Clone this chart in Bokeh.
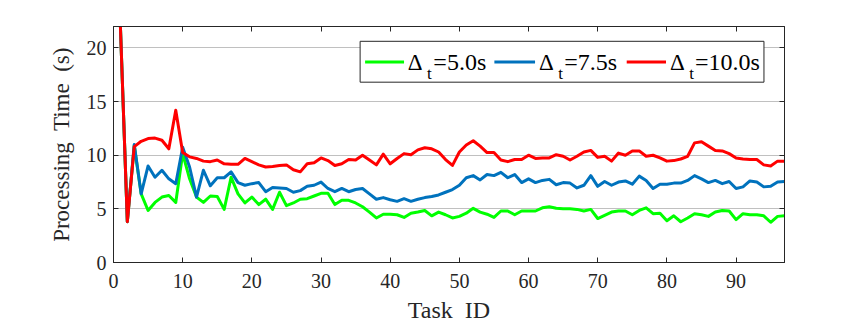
from bokeh.plotting import figure
from bokeh.models import LinearAxis, FixedTicker, Range1d, BoxAnnotation, Label, CustomJSTickFormatter
from bokeh.embed import file_html
from bokeh.resources import INLINE

# ---------------- data ----------------
task_id = list(range(1, 98))

time_5s = [22.0, 3.8, 10.9, 6.4, 4.85, 5.6, 6.1, 6.25, 5.6, 10.15,
           7.8, 6.1, 5.6, 6.2, 6.15, 4.95, 7.95, 6.4, 5.55, 6.1,
           5.4, 5.9, 4.95, 6.55, 5.3, 5.55, 5.9, 5.95, 6.2, 6.45,
           6.45, 5.4, 5.8, 5.8, 5.55, 5.2, 4.7, 4.15, 4.5, 4.5,
           4.45, 4.2, 4.6, 4.7, 4.85, 4.35, 4.7, 4.45, 4.15, 4.3,
           4.6, 5.05, 4.7, 4.5, 4.2, 4.8, 4.8, 4.45, 4.8, 4.8,
           4.8, 5.1, 5.2, 5.05, 5.0, 5.0, 4.95, 4.8, 4.95, 4.1,
           4.4, 4.7, 4.8, 4.8, 4.45, 4.85, 5.1, 4.55, 4.6, 3.9,
           4.35, 3.8, 4.15, 4.55, 4.45, 4.3, 4.7, 4.85, 4.8, 4.0,
           4.55, 4.45, 4.45, 4.35, 3.75, 4.3, 4.35]

time_7_5s = [22.0, 3.8, 11.0, 6.4, 9.0, 7.95, 8.6, 7.8, 7.35, 10.75,
             8.9, 6.1, 8.6, 7.15, 7.9, 7.9, 8.45, 7.45, 7.2, 7.35,
             7.45, 6.6, 7.0, 6.95, 6.9, 6.55, 6.7, 7.1, 7.2, 7.5,
             6.9, 6.6, 6.9, 6.6, 6.8, 6.9, 6.4, 5.9, 6.05, 5.85,
             5.7, 5.95, 5.7, 5.9, 6.05, 6.15, 6.3, 6.55, 6.8, 7.2,
             7.9, 8.1, 7.7, 8.2, 8.1, 8.4, 7.9, 8.2, 7.45, 7.8,
             7.45, 7.65, 7.75, 7.25, 7.45, 7.4, 6.95, 7.2, 8.1, 7.1,
             7.55, 7.2, 7.5, 7.6, 7.3, 8.05, 7.65, 6.9, 7.3, 7.3,
             7.4, 7.4, 7.65, 8.1, 7.8, 7.45, 7.65, 7.35, 7.55, 6.9,
             7.05, 7.6, 7.5, 7.05, 7.1, 7.5, 7.55]

time_10s = [22.0, 3.8, 10.8, 11.3, 11.55, 11.6, 11.4, 10.6, 14.2, 10.25,
            9.85, 9.7, 9.45, 9.4, 9.55, 9.2, 9.15, 9.15, 9.7, 9.4,
            9.1, 8.9, 8.95, 9.05, 9.1, 8.65, 8.45, 9.2, 9.3, 9.75,
            9.5, 9.05, 9.2, 9.6, 9.55, 10.0, 9.55, 9.1, 10.1, 9.2,
            9.7, 10.15, 10.05, 10.5, 10.7, 10.6, 10.3, 9.6, 9.05, 10.3,
            10.95, 11.35, 10.85, 10.25, 10.25, 9.55, 9.4, 9.6, 9.6, 10.0,
            9.7, 9.75, 9.75, 10.05, 9.9, 9.55, 9.9, 10.3, 10.45, 9.8,
            9.9, 9.45, 10.2, 10.0, 10.4, 10.4, 9.9, 10.0, 9.75, 9.45,
            9.5, 9.65, 9.9, 11.15, 11.25, 10.85, 10.45, 10.4, 10.15, 9.75,
            9.65, 9.6, 9.6, 9.1, 9.0, 9.45, 9.45]

x_ticks = [0, 10, 20, 30, 40, 50, 60, 70, 80, 90]
y_ticks = [0, 5, 10, 15, 20]
legend_values = ["=5.0s", "=7.5s", "=10.0s"]

# ---------------- styles ----------------
FONT = "Liberation Serif"
AX = "#262626"
colors = ["#00ff00", "#0072bd", "#ff0000"]

p = figure(width=859, height=328, output_backend="svg", toolbar_location=None,
           x_range=Range1d(0, 97), y_range=Range1d(0, 22),
           min_border_left=113, min_border_right=75,
           min_border_top=26, min_border_bottom=66)
p.background_fill_color = "white"
p.border_fill_color = "white"
p.outline_line_color = AX
p.outline_line_width = 1

p.add_layout(LinearAxis(), "above")
p.add_layout(LinearAxis(), "right")

for ax in p.xaxis:
    ax.ticker = FixedTicker(ticks=x_ticks)
for ax in p.yaxis:
    ax.ticker = FixedTicker(ticks=y_ticks)

for ax in list(p.xaxis) + list(p.yaxis):
    ax.axis_line_color = AX
    ax.axis_line_width = 1
    ax.major_tick_line_color = AX
    ax.major_tick_in = 5
    ax.major_tick_out = 0
    ax.minor_tick_line_color = None
    ax.major_label_text_font = FONT
    ax.major_label_text_font_size = "20px"
    ax.major_label_text_font_style = "normal"
    ax.major_label_text_color = AX

# hide labels on box axes
for ax in (p.above[0], p.right[0]):
    ax.formatter = CustomJSTickFormatter(code="return ''")
    ax.major_label_text_font_size = "0px"
    ax.major_label_standoff = 0

xb = p.below[0]
xb.major_label_standoff = 11
xb.axis_label = "Task\u00a0 ID"
xb.axis_label_text_font = FONT
xb.axis_label_text_font_size = "24px"
xb.axis_label_text_font_style = "normal"
xb.axis_label_text_color = AX
xb.axis_label_standoff = 6

yl = p.left[0]
yl.major_label_standoff = 7
yl.axis_label = "Processing\u00a0 Time\u00a0 (s)"
yl.axis_label_text_font = FONT
yl.axis_label_text_font_size = "23px"
yl.axis_label_text_font_style = "normal"
yl.axis_label_text_color = AX
yl.axis_label_standoff = 10

p.xgrid.visible = False
p.ygrid.grid_line_color = "#c0c0c0"
p.ygrid.grid_line_width = 1

series = [time_5s, time_7_5s, time_10s]
for ys, c in zip(series, colors):
    p.line(task_id, ys, line_color=c, line_width=3, line_join="round")

# ---------------- legend (manual, for subscript) ----------------
p.add_layout(BoxAnnotation(left=35.65, right=94.03, bottom=16.81, top=20.62,
                           fill_color="white", fill_alpha=1.0,
                           line_color=AX, line_width=1, line_alpha=1.0))
swatch_x = [(36.37, 42.0), (55.06, 60.94), (74.19, 79.87)]
delta_x = [42.54, 61.52, 80.45]
sub_x = [45.33, 64.3, 83.24]
val_x = [46.24, 65.17, 84.06]
for i in range(3):
    p.add_layout(BoxAnnotation(left=swatch_x[i][0], right=swatch_x[i][1],
                               bottom=18.54, top=18.84,
                               fill_color=colors[i], fill_alpha=1.0, line_color=None))
    p.add_layout(Label(x=delta_x[i], y=18.65, text="\u0394", text_font=FONT,
                       text_font_size="23px", text_font_style="normal", text_color="black",
                       text_baseline="alphabetic", text_align="left"))
    p.add_layout(Label(x=sub_x[i], y=17.66, text="t", text_font=FONT,
                       text_font_size="17px", text_font_style="normal", text_color="black",
                       text_baseline="alphabetic", text_align="left"))
    p.add_layout(Label(x=val_x[i], y=18.65, text=legend_values[i], text_font=FONT,
                       text_font_size="24px", text_font_style="normal", text_color="black",
                       text_baseline="alphabetic", text_align="left"))

open("out.html", "w").write(file_html(p, INLINE))
